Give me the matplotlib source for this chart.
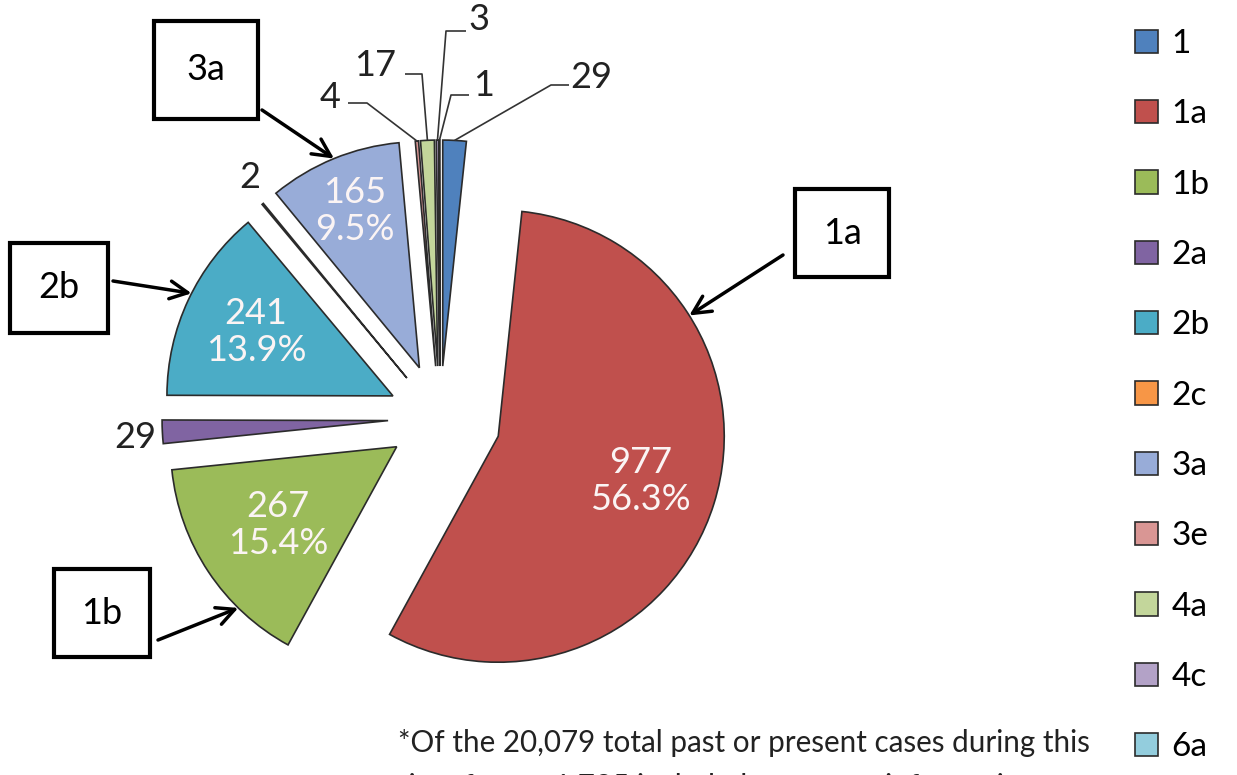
import matplotlib
matplotlib.use("Agg")
import matplotlib.pyplot as plt
import numpy as np

plt.rcParams["font.family"] = ["Lato", "DejaVu Sans"]

# genotype counts, in pie order (clockwise from 12 o'clock)
GENOTYPES = ["1", "1a", "1b", "2a", "2b", "2c", "3a", "3e", "4a", "4c", "6a"]
CASES = [29, 977, 267, 29, 241, 2, 165, 4, 17, 3, 1]
COLORS = ["#4F81BD", "#C0504D", "#9BBB59", "#8064A2", "#4BACC6", "#F79646",
          "#98ACD8", "#D99694", "#C3D69B", "#B3A2C7", "#93CDDD"]
EXPLODE = [0.23, 0.27, 0.23, 0.23, 0.23, 0.23, 0.24, 0.23, 0.23, 0.23, 0.23]

FOOTNOTE = ["*Of the 20,079 total past or present cases during this",
            "time frame, 1,735 included genotype information"]

W, H = 1237, 775
CX, CY, R = 440, 418, 226  # pie centre and radius in pixels


def px(x, y):
    return (x - CX) / R, (CY - y) / R


# inside labels: distance from wedge tip, fraction of radius
INSIDE = {"1a": 0.66, "1b": 0.63, "2b": 0.67, "3a": 0.75}

# outside labels: text position, optional leader elbow (pixels)
OUTSIDE = {
    "2a": ((135, 437), None),
    "2c": ((250, 178), None),
    "3e": ((330, 97), [(348, 103), (367, 103)]),
    "4a": ((375, 66), [(405, 74), (422, 74)]),
    "4c": ((479, 19), [(466, 31), (446, 31)]),
    "6a": ((484, 86), [(469, 95), (451, 95)]),
    "1": ((591, 77), [(569, 85), (551, 85)]),
}

# callout boxes: box centre (pixels), arrow start (pixels), target angle on arc, pad
CALLOUTS = {
    "1a": ((842, 233), (783, 255), 57.7, 0.75),
    "3a": ((206, 70), (262, 110), 337.8, 0.9),
    "2b": ((59, 288), (113, 281), 297.0, 0.8),
    "1b": ((102, 613), (158, 640), 224.5, 0.75),
}

fig = plt.figure(figsize=(W / 100, H / 100), dpi=100)
ax = fig.add_axes([0, 0, 1, 1])

wedges, _ = ax.pie(CASES, colors=COLORS, explode=EXPLODE, startangle=90,
                   counterclock=False, radius=1,
                   wedgeprops=dict(edgecolor="#2b2b2b", linewidth=1.2))
ax.set_xlim(-CX / R, (W - CX) / R)
ax.set_ylim(-(H - CY) / R, CY / R)
ax.set_aspect("equal")
ax.axis("off")

total = sum(CASES)
by_name = dict(zip(GENOTYPES, wedges))

for name, n in zip(GENOTYPES, CASES):
    w = by_name[name]
    mid = np.deg2rad((w.theta1 + w.theta2) / 2)
    cx, cy = w.center
    if name in INSIDE:
        d = INSIDE[name] * w.r
        ax.text(cx + d * np.cos(mid), cy + d * np.sin(mid),
                f"{n}\n{n / total * 100:.1f}%", ha="center", va="center",
                color="#fbf4f4", fontsize=26, linespacing=1.15)
    else:
        (tx, ty), elbow = OUTSIDE[name]
        ax.text(*px(tx, ty), str(n), ha="center", va="center",
                color="#222222", fontsize=26)
        if elbow:
            ox, oy = cx + w.r * np.cos(mid), cy + w.r * np.sin(mid)
            pts = [px(*p) for p in elbow] + [(ox, oy)]
            ax.plot([p[0] for p in pts], [p[1] for p in pts],
                    color="#333333", lw=1.2, solid_capstyle="butt")

for name, (box, start, ang, pad) in CALLOUTS.items():
    w = by_name[name]
    phi = np.deg2rad(90 - ang)
    target = (w.center[0] + w.r * np.cos(phi), w.center[1] + w.r * np.sin(phi))
    ax.annotate("", xy=target, xytext=px(*start),
                arrowprops=dict(arrowstyle="->", lw=2.5, color="black",
                                mutation_scale=32, shrinkA=0, shrinkB=0))
    ax.text(*px(*box), name, ha="center", va="center", fontsize=26,
            bbox=dict(boxstyle=f"square,pad={pad}", fc="white", ec="black", lw=3))

ax.legend(wedges, GENOTYPES, loc="upper left",
          bbox_to_anchor=(1135 / W, 1 - 29 / H), frameon=False,
          fontsize=24, handlelength=0.7, handleheight=0.7,
          handletextpad=0.4, labelspacing=1.21, borderpad=0, borderaxespad=0)

for i, line in enumerate(FOOTNOTE):
    ax.text(*px(398, 743 + i * 44), line, ha="left", va="center",
            fontsize=21.3, color="#222222")

fig.savefig("out.png", dpi=100)
